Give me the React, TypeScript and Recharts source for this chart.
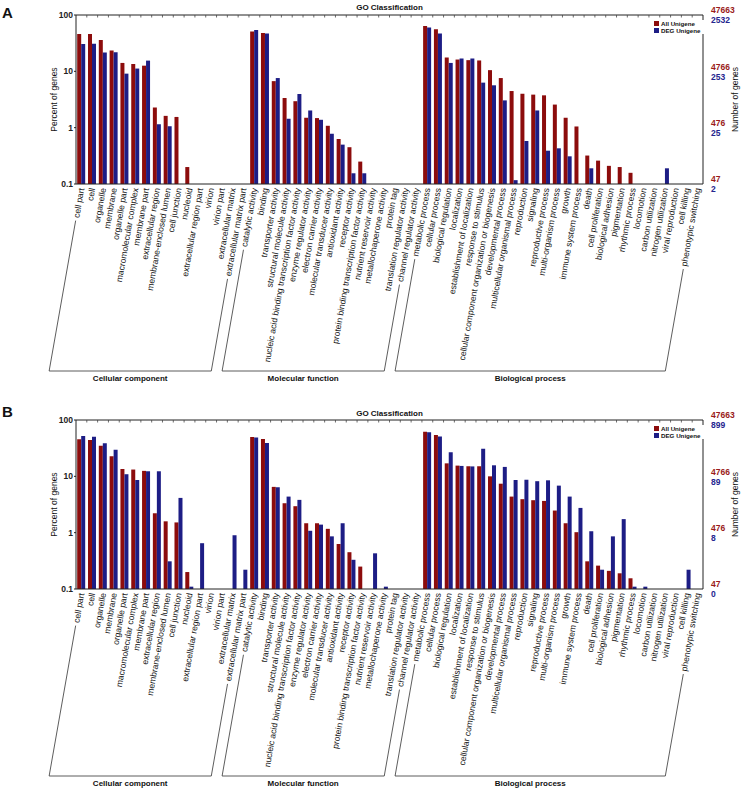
import { BarChart, Bar, XAxis, YAxis, Legend, ReferenceLine } from 'recharts'

const CATEGORIES = [
  'cell part', 'cell', 'organelle', 'membrane', 'organelle part', 'macromolecular complex',
  'membrane part', 'extracellular region', 'membrane-enclosed lumen', 'cell junction', 'nucleoid',
  'extracellular region part', 'virion', 'virion part', 'extracellular matrix', 'extracellular matrix part',
  'catalytic activity', 'binding', 'transporter activity', 'structural molecule activity',
  'nucleic acid binding transcription factor activity', 'enzyme regulator activity',
  'electron carrier activity', 'molecular transducer activity', 'antioxidant activity',
  'receptor activity', 'protein binding transcription factor activity', 'nutrient reservoir activity',
  'metallochaperone activity', 'protein tag', 'translation regulator activity', 'channel regulator activity',
  'metabolic process', 'cellular process', 'biological regulation', 'localization',
  'establishment of localization', 'response to stimulus',
  'cellular component organization or biogenesis', 'developmental process',
  'multicellular organismal process', 'reproduction', 'signaling', 'reproductive process',
  'multi-organism process', 'growth', 'immune system process', 'death', 'cell proliferation',
  'biological adhesion', 'pigmentation', 'rhythmic process', 'locomotion', 'carbon utilization',
  'nitrogen utilization', 'viral reproduction', 'cell killing', 'phenotypic switching',
]

const GROUPS = [
  { name: 'Cellular component', first: 0, last: 15 },
  { name: 'Molecular function', first: 16, last: 31 },
  { name: 'Biological process', first: 32, last: 57 },
]

// percent of genes, panel A
const A_ALL = [
  46, 46, 36, 23.4, 14.1, 13.5, 12.6, 2.28, 1.62, 1.55, 0.2, null, null, null, null, null,
  51, 47.7, 6.7, 3.36, 2.95, 1.5, 1.48, 1.08, 0.63, 0.45, 0.25, null, null, null, null, null,
  63.7, 55.6, 17.6, 16.2, 15.8, 15.6, 10.5, 7.6, 4.47, 4.0, 3.86, 3.75, 2.57, 1.5, 1.05, 0.32,
  0.26, 0.21, 0.2, 0.158, null, null, null, null, null, null,
]
const A_DEG = [
  30.7, 31, 21.6, 21.8, 9.1, 11.2, 15.5, 1.15, 1.06, null, null, null, null, null, null, null,
  54, 47, 7.6, 1.44, 3.96, 2.02, 1.38, 0.78, 0.5, 0.155, 0.155, null, null, null, null, null,
  60, 47, 14.1, 16.9, 16.9, 6.3, 5.65, 3.05, 0.117, 0.58, 2.02, 0.39, 0.43, 0.31, null, 0.19,
  null, null, null, null, null, null, 0.19, null, null, null,
]

// percent of genes, panel B
const B_ALL = [
  45.4, 44, 35, 22.7, 13.5, 13.2, 12.5, 2.21, 1.59, 1.52, 0.2, null, null, null, null, null,
  50, 46, 6.5, 3.33, 2.95, 1.47, 1.47, 1.17, 0.63, 0.45, 0.25, null, null, null, null, null,
  62, 54.2, 17, 15.5, 15.1, 15.1, 10, 7.4, 4.37, 3.93, 3.77, 3.66, 2.47, 1.47, 1.02, 0.31,
  0.26, 0.21, 0.19, 0.155, null, null, null, null, null, null,
]
const B_DEG = [
  52, 50.6, 38.6, 29.7, 10.9, 8.6, 12.3, 12.3, 0.31, 4.14, 0.11, 0.65, null, null, 0.9, 0.22,
  48.7, 39, 6.4, 4.37, 3.82, 1.08, 1.39, 0.86, 1.47, 0.33, null, 0.43, 0.11, null, null, null,
  60.4, 51, 26.7, 15.3, 15, 31, 15.7, 14.7, 8.6, 8.7, 8.2, 8.5, 6.84, 4.37, 2.75, 1.06,
  0.22, 0.86, 1.74, 0.11, 0.11, null, null, null, 0.22, null,
]

const PERCENT_TICKS = [100, 10, 1, 0.1]
const ALL_COUNTS = ['47663', '4766', '476', '47']
const A_DEG_COUNTS = ['2532', '253', '25', '2']
const B_DEG_COUNTS = ['899', '89', '8', '0']

const FONT = '"Liberation Sans", Arial, Helvetica, sans-serif'
const RED = '#8c0c0c'
const BLUE = '#1d1d85'
const RED_TXT = '#9a1a1a'
const BLUE_TXT = '#25258f'

// layout
const W = 750
const H = 390
const PLOT_TOP = 15
const PLOT_H = 169
const PLOT_LEFT = 76
const PLOT_RIGHT = 703
const BAND = (PLOT_RIGHT - PLOT_LEFT) / CATEGORIES.length
const LABEL_SIZE = 8.6
const LABEL_Y = PLOT_TOP + PLOT_H + 4
const BRACKET_Y = 371
const ANGLE = 80

let ctx: CanvasRenderingContext2D | null = null
function textWidth(s: string) {
  if (!ctx) ctx = document.createElement('canvas').getContext('2d')
  if (!ctx) return s.length * 4
  ctx.font = `${LABEL_SIZE}px ${FONT}`
  return ctx.measureText(s).width
}

function CatTick(props: any) {
  const { x, y, payload } = props
  return (
    <text
      x={x}
      y={y}
      dy="0.35em"
      transform={`rotate(-${ANGLE}, ${x}, ${y})`}
      textAnchor="end"
      fontSize={LABEL_SIZE}
      fontFamily={FONT}
      fill="#111"
    >
      {payload.value}
    </text>
  )
}

function CountTick(props: any) {
  const { x, y, payload, counts } = props
  const i = PERCENT_TICKS.indexOf(payload.value)
  return (
    <g fontFamily={FONT} fontSize={8.5} fontWeight="bold">
      <text x={x} y={y - 4.5} dy="0.35em" fill={RED_TXT}>
        {ALL_COUNTS[i]}
      </text>
      <text x={x} y={y + 5.5} dy="0.35em" fill={BLUE_TXT}>
        {counts[i]}
      </text>
    </g>
  )
}

function LegendBox(props: any) {
  const items = props.payload ?? []
  return (
    <div style={{ fontFamily: FONT, fontSize: 6.2, fontWeight: 'bold', lineHeight: '7px', background: '#fff' }}>
      {items.map((it: any) => (
        <div key={it.value} style={{ display: 'flex', alignItems: 'center', whiteSpace: 'nowrap' }}>
          <span style={{ width: 5, height: 5, background: it.color, marginRight: 2, display: 'inline-block' }} />
          <span style={{ color: '#111' }}>{it.value}</span>
        </div>
      ))}
    </div>
  )
}

// small inward tick marks along the top frame, one per category boundary
function TopTicks() {
  return (
    <g stroke="#444" strokeWidth={0.8}>
      {CATEGORIES.slice(1).map((c, k) => {
        const x = PLOT_LEFT + (k + 1) * BAND
        return <line key={c} x1={x} x2={x} y1={PLOT_TOP} y2={PLOT_TOP + 2.5} />
      })}
    </g>
  )
}

function Brackets() {
  const rad = (ANGLE * Math.PI) / 180
  const dx = -Math.cos(rad)
  const dy = Math.sin(rad)
  const cot = Math.cos(rad) / Math.sin(rad)
  const anchorX = (i: number) => PLOT_LEFT + (i + 0.5) * BAND
  const end = (i: number) => {
    const L = textWidth(CATEGORIES[i]) + 3
    return [anchorX(i) + L * dx, LABEL_Y + L * dy]
  }
  const base = (i: number) => anchorX(i) - (BRACKET_Y - LABEL_Y) * cot
  return (
    <g>
      {GROUPS.map((g) => {
        const [x1, y1] = end(g.first)
        const [x2, y2] = end(g.last)
        const b1 = base(g.first)
        const b2 = base(g.last)
        return (
          <g key={g.name}>
            <polyline
              points={`${x1},${y1} ${b1},${BRACKET_Y} ${b2},${BRACKET_Y} ${x2},${y2}`}
              fill="none"
              stroke="#333"
              strokeWidth={0.8}
            />
            <text
              x={(b1 + b2) / 2}
              y={BRACKET_Y + 10}
              textAnchor="middle"
              fontFamily={FONT}
              fontSize={8}
              fontWeight="bold"
              fill="#111"
            >
              {g.name}
            </text>
          </g>
        )
      })}
    </g>
  )
}

type PanelProps = {
  letter: string
  letterY: number
  titleY: number
  all: (number | null)[]
  deg: (number | null)[]
  degCounts: string[]
  top: number
}

function Panel({ letter, letterY, titleY, all, deg, degCounts, top }: PanelProps) {
  const data = CATEGORIES.map((name, i) => ({ name, all: all[i], deg: deg[i] }))
  const midY = PLOT_TOP + PLOT_H / 2
  return (
    <div style={{ position: 'absolute', left: 0, top, width: W, height: H }}>
      <BarChart
        width={W}
        height={H}
        data={data}
        margin={{ top: PLOT_TOP, right: 0, left: 0, bottom: 0 }}
        barCategoryGap="11%"
        barGap={0}
      >
        <XAxis
          dataKey="name"
          interval={0}
          tick={<CatTick />}
          tickLine={false}
          tickSize={0}
          tickMargin={4}
          height={H - PLOT_TOP - PLOT_H}
          axisLine={{ stroke: '#222' }}
        />
        <YAxis
          yAxisId="left"
          scale="log"
          domain={[0.1, 100]}
          allowDataOverflow
          ticks={PERCENT_TICKS}
          width={PLOT_LEFT}
          tickSize={2}
          tickMargin={1}
          tickLine={{ stroke: '#222' }}
          axisLine={{ stroke: '#222' }}
          tick={{ fontSize: 8.5, fill: '#222', fontWeight: 'bold', fontFamily: FONT }}
        />
        <YAxis
          yAxisId="right"
          orientation="right"
          scale="log"
          domain={[0.1, 100]}
          allowDataOverflow
          ticks={PERCENT_TICKS}
          width={W - PLOT_RIGHT}
          tickLine={false}
          tickMargin={2}
          axisLine={{ stroke: '#222' }}
          tick={(p: any) => <CountTick {...p} counts={degCounts} />}
        />
        <ReferenceLine yAxisId="left" y={100} stroke="#222" />
        <Legend
          layout="horizontal"
          verticalAlign="middle"
          align="center"
          wrapperStyle={{ position: 'absolute', top: PLOT_TOP + 5, left: 654, width: 50 }}
          content={<LegendBox />}
        />
        <Bar yAxisId="left" dataKey="all" name="All Unigene" fill={RED} isAnimationActive={false} />
        <Bar yAxisId="left" dataKey="deg" name="DEG Unigene" fill={BLUE} isAnimationActive={false} />
      </BarChart>
      <svg
        width={W}
        height={H}
        style={{ position: 'absolute', left: 0, top: 0, pointerEvents: 'none', overflow: 'visible' }}
      >
        <text x={2} y={letterY} fontFamily={FONT} fontSize={15} fontWeight="bold" fill="#111">
          {letter}
        </text>
        <text
          x={(PLOT_LEFT + PLOT_RIGHT) / 2}
          y={titleY}
          textAnchor="middle"
          fontFamily={FONT}
          fontSize={8}
          fontWeight="bold"
          fill="#111"
        >
          GO Classification
        </text>
        <text
          x={53.5}
          y={midY}
          transform={`rotate(-90, 53.5, ${midY})`}
          textAnchor="middle"
          dominantBaseline="central"
          fontFamily={FONT}
          fontSize={8.5}
          fill="#111"
        >
          Percent of genes
        </text>
        <text
          x={735}
          y={midY}
          transform={`rotate(-90, 735, ${midY})`}
          textAnchor="middle"
          dominantBaseline="central"
          fontFamily={FONT}
          fontSize={8.5}
          fill="#111"
        >
          Number of genes
        </text>
        <TopTicks />
        <Brackets />
      </svg>
    </div>
  )
}

export default function App() {
  return (
    <div style={{ position: 'absolute', left: 0, top: 0, width: 750, height: 800, background: '#fff' }}>
      <Panel letter="A" letterY={18} titleY={10} all={A_ALL} deg={A_DEG} degCounts={A_DEG_COUNTS} top={0} />
      <Panel letter="B" letterY={12} titleY={11} all={B_ALL} deg={B_DEG} degCounts={B_DEG_COUNTS} top={405} />
    </div>
  )
}
